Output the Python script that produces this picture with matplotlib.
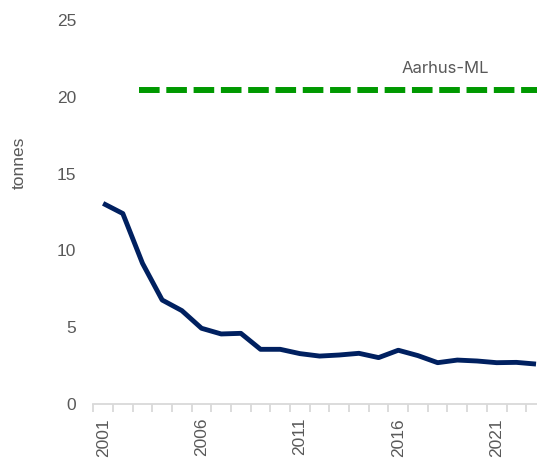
import matplotlib
matplotlib.use('Agg')
import matplotlib.pyplot as plt

plt.rcParams['font.family'] = ['Liberation Sans', 'DejaVu Sans']

# data
years = list(range(2001, 2024))
tonnes = [13.06, 12.4, 9.16, 6.77, 6.08, 4.93, 4.56, 4.6, 3.56, 3.56, 3.28,
          3.12, 3.19, 3.3, 3.02, 3.5, 3.15, 2.69, 2.86, 2.8, 2.69, 2.71, 2.6]
limit_label = 'Aarhus-ML'
limit_value = 20.45
limit_start = 2003

text_col = '#595959'
axis_col = '#D9D9D9'

fig = plt.figure(figsize=(5.37, 4.59), dpi=100)
ax = fig.add_axes([93.3 / 537, 55 / 459, 443.7 / 537, 384 / 459])

x = list(range(len(years)))
ax.plot(x, tonnes, color='#002060', lw=3.5, solid_joinstyle='round',
        solid_capstyle='butt', clip_on=False)

# dashed limit line
i0 = years.index(limit_start)
lx = x[i0:]
ax.plot(lx, [limit_value] * len(lx), color='#009900', lw=4.3,
        dashes=(2.45, 2.12), dash_capstyle='projecting', clip_on=False)
ax.text(17.4, limit_value + 1.12, limit_label, color=text_col, fontsize=12,
        family=['Inter', 'DejaVu Sans'], ha='center', va='baseline')

ax.set_yticks([0, 5, 10, 15, 20, 25])
ax.tick_params(axis='y', length=0, pad=12.3, labelsize=12.5, labelcolor=text_col)

ax.set_xticks([i for i, y in enumerate(years) if (y - 2001) % 5 == 0])
ax.set_xticklabels([str(y) for y in years if (y - 2001) % 5 == 0],
                   rotation=90)
ax.set_xticks([i - 0.5 for i in x] + [len(x) - 0.5], minor=True)
ax.tick_params(axis='x', which='major', length=0, pad=10, labelsize=12.5,
               labelcolor=text_col)
ax.tick_params(axis='x', which='minor', length=6, width=1.3, color=axis_col)

# limits after the ticks, set_xticks widens the view otherwise
ax.set_xlim(-0.5, 22.05)
ax.set_ylim(0, 25)

for s in ['top', 'right', 'left']:
    ax.spines[s].set_visible(False)
ax.spines['bottom'].set_color(axis_col)
ax.spines['bottom'].set_linewidth(1.3)

ax.set_ylabel('tonnes', color=text_col, fontsize=12.5)
ax.yaxis.set_label_coords(-0.150, 0.628)

fig.savefig('out.png', dpi=100)
